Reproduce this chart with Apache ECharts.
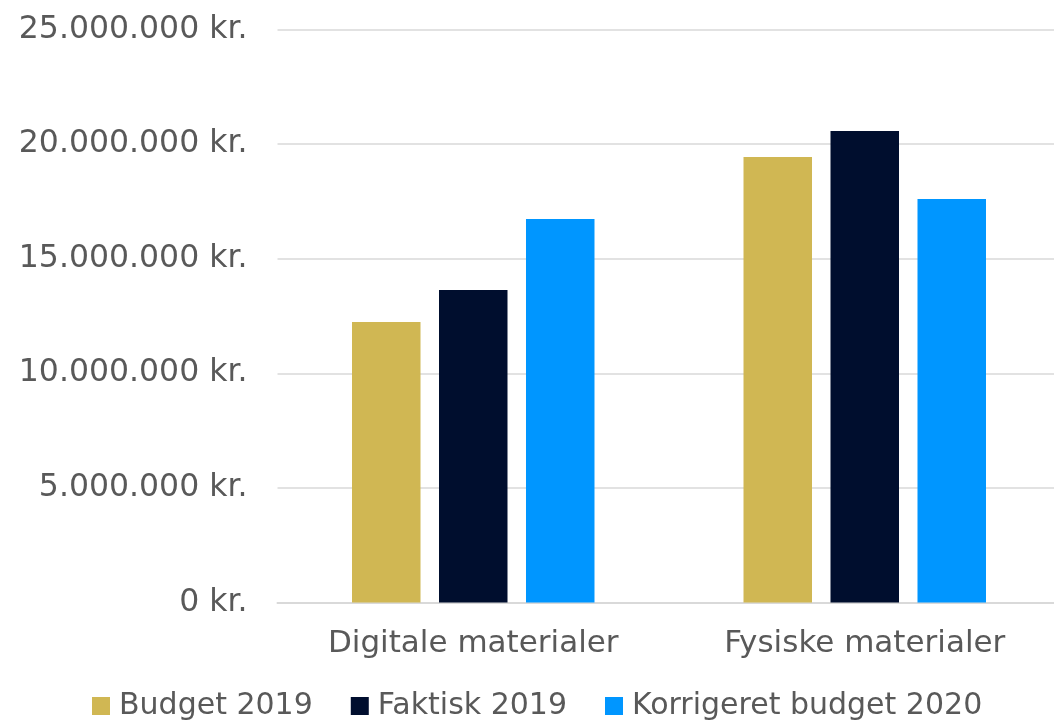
<!DOCTYPE html>
<html>
<head>
<meta charset="utf-8">
<script src="https://cdn.jsdelivr.net/npm/echarts@6/dist/echarts.min.js"></script>
<style>
html,body{margin:0;padding:0;background:#fff;}
#chart{width:1054px;height:724px;}
</style>
</head>
<body>
<div id="chart"></div>
<script>
const categories = ['Digitale materialer', 'Fysiske materialer'];
const seriesNames = ['Budget 2019', 'Faktisk 2019', 'Korrigeret budget 2020'];
const budget2019 = [12240000, 19440000];
const faktisk2019 = [13630000, 20570000];
const korrigeret2020 = [16730000, 17600000];
const colors = ['#D0B753', '#000E2E', '#0096FF'];

const fmt = v => (v === 0 ? '0' : String(v).replace(/\B(?=(\d{3})+(?!\d))/g, '.')) + ' kr.';
const font = '"DejaVu Sans", sans-serif';
const chart = echarts.init(document.getElementById('chart'));
chart.setOption({
  animation: false,
  color: colors,
  textStyle: { fontFamily: font },
  grid: { left: 277.5, top: 29.5, width: 783, height: 573, containLabel: false, outerBoundsMode: 'none' },
  legend: {
    top: 686, left: 87,
    itemWidth: 18, itemHeight: 18, itemGap: 38,
    icon: 'rect',
    textStyle: { fontSize: 30, color: '#595959', fontFamily: font, padding: [0, 0, 0, 4] },
    data: seriesNames
  },
  xAxis: {
    type: 'category', data: categories,
    axisLine: { lineStyle: { color: '#D9D9D9', width: 2 } },
    axisTick: { show: false },
    axisLabel: { fontSize: 31, color: '#595959', margin: 26, fontFamily: font }
  },
  yAxis: {
    type: 'value', min: 0, max: 25000000, interval: 5000000,
    axisLine: { show: false }, axisTick: { show: false },
    splitLine: { lineStyle: { color: '#D9D9D9', width: 1.5 } },
    axisLabel: { fontSize: 31.5, color: '#595959', margin: 30, formatter: fmt, fontFamily: font }
  },
  series: [
    { name: seriesNames[0], type: 'bar', data: budget2019, barWidth: 68.5, barGap: '27%' },
    { name: seriesNames[1], type: 'bar', data: faktisk2019, barWidth: 68.5, barGap: '27%' },
    { name: seriesNames[2], type: 'bar', data: korrigeret2020, barWidth: 68.5, barGap: '27%' }
  ]
});
</script>
</body>
</html>
